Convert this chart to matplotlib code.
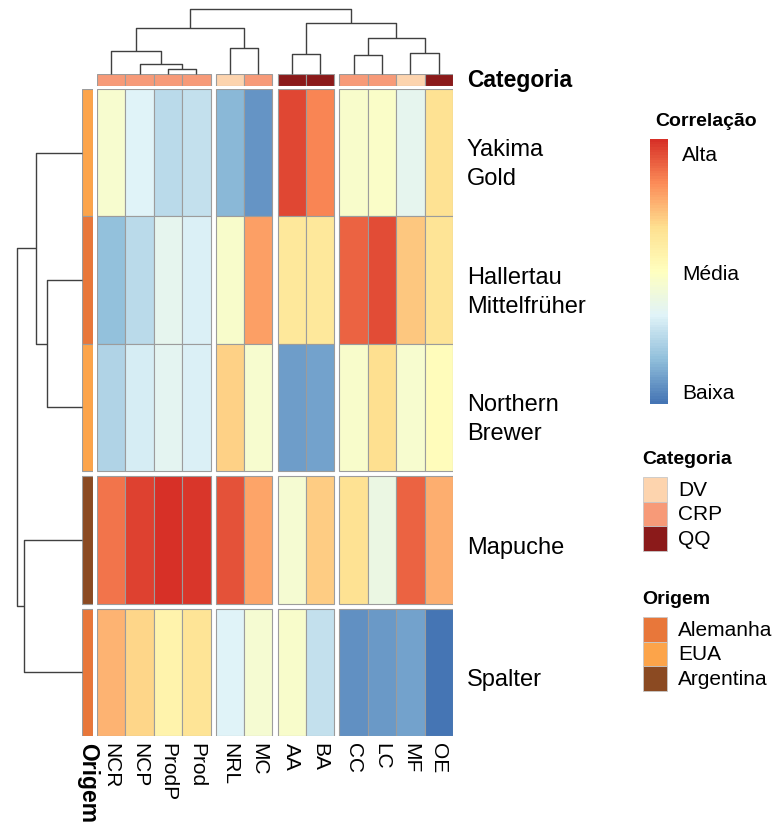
import numpy as np
import matplotlib
matplotlib.use("Agg")
import matplotlib.pyplot as plt
import matplotlib.colors as mcolors
from matplotlib.patches import Rectangle

plt.rcParams['font.family'] = ['Liberation Sans', 'DejaVu Sans']

# hop varieties (rows) and traits (columns), already in cluster order
rows = ["Yakima\nGold", "Hallertau\nMittelfrüher", "Northern\nBrewer", "Mapuche", "Spalter"]
cols = ["NCR", "NCP", "ProdP", "Prod", "NRL", "MC", "AA", "BA", "CC", "LC", "MF", "OE"]

corr = np.array([
    [-0.10, -0.33, -0.50, -0.45, -0.70, -0.85, 0.90, 0.68, -0.08, -0.06, -0.28, 0.30],
    [-0.66, -0.50, -0.28, -0.35, -0.07, 0.58, 0.25, 0.25, 0.82, 0.88, 0.42, 0.28],
    [-0.53, -0.37, -0.30, -0.35, 0.38, -0.10, -0.80, -0.78, -0.08, 0.33, -0.10, 0.02],
    [0.75, 0.92, 0.98, 0.96, 0.87, 0.56, -0.12, 0.40, 0.30, -0.22, 0.80, 0.52],
    [0.50, 0.36, 0.12, 0.28, -0.33, -0.12, -0.08, -0.45, -0.87, -0.83, -0.78, -1.00],
])

categoria = ["CRP", "CRP", "CRP", "CRP", "DV", "CRP", "QQ", "QQ", "CRP", "CRP", "DV", "QQ"]
origem = ["EUA", "Alemanha", "EUA", "Argentina", "Alemanha"]

cat_levels = ["DV", "CRP", "QQ"]
cat_colors = ["#FDD4AE", "#F79A78", "#8B1A1A"]
orig_levels = ["Alemanha", "EUA", "Argentina"]
orig_colors = ["#E8773A", "#FCA44A", "#8B4A22"]

# group sizes after cutting the trees
col_groups = [4, 2, 2, 4]
row_groups = [3, 1, 1]

# merge trees as (height, left, right), leaves are indices
col_tree = (6.5, (4.6, (2.3, 0, (1.0, 1, (0.5, 2, 3))), (2.6, 4, 5)),
            (5.1, (2.0, 6, 7), (3.6, (1.9, 8, 9), (2.1, 10, 11))))
row_tree = (6.5, (4.6, 0, (3.5, 1, 2)), (5.8, 3, 4))

palette = ["#4575B4", "#91BFDB", "#E0F3F8", "#FFFFBF", "#FEE090", "#FC8D59", "#D73027"]
cmap = mcolors.LinearSegmentedColormap.from_list("rdylbu", palette, N=100)
norm = mcolors.Normalize(-1, 1)
border = "#9c9c9c"
tree_color = "#404040"

W, H = 776, 828
fig = plt.figure(figsize=(W / 100, H / 100), dpi=100)


def px_axes(x0, y0, x1, y1):
    ax = fig.add_axes([x0 / W, 1 - y1 / H, (x1 - x0) / W, (y1 - y0) / H])
    ax.axis("off")
    return ax


def starts(groups, gap):
    out, pos = [], 0.0
    for g in groups:
        for _ in range(g):
            out.append(pos)
            pos += 1
        pos += gap
    return np.array(out), pos - gap


def draw_tree(ax, node, leaf_pos, side):
    if isinstance(node, int):
        return leaf_pos[node], 0.0
    h, left, right = node
    p1, h1 = draw_tree(ax, left, leaf_pos, side)
    p2, h2 = draw_tree(ax, right, leaf_pos, side)
    a, b = [p1, p1, p2, p2], [h1, h, h, h2]
    if side == "top":
        ax.plot(a, b, color=tree_color, lw=1.0, clip_on=False, solid_capstyle="butt")
    else:
        ax.plot(b, a, color=tree_color, lw=1.0, clip_on=False, solid_capstyle="butt")
    return (p1 + p2) / 2, h


x0s, xtot = starts(col_groups, 0.176)
y0s, ytot = starts(row_groups, 0.04)

# main heatmap
ax = px_axes(97, 90, 453, 737)
ax.set_xlim(0, xtot)
ax.set_ylim(ytot, 0)
for i in range(len(rows)):
    for j in range(len(cols)):
        ax.add_patch(Rectangle((x0s[j], y0s[i]), 1, 1, facecolor=cmap(norm(corr[i, j])),
                               edgecolor=border, lw=0.8))

for i, name in enumerate(rows):
    dy = -5 - 3 * name.count("\n")
    ax.annotate(name, xy=(1, y0s[i] + 0.5), xycoords=("axes fraction", "data"),
                xytext=(10, dy), textcoords="offset points", ha="left", va="center",
                fontsize=17, linespacing=1.42)
for j, name in enumerate(cols):
    ax.annotate(name, xy=(x0s[j] + 0.5, 0), xycoords=("data", "axes fraction"),
                xytext=(0, -4), textcoords="offset points", ha="center", va="top",
                rotation=270, fontsize=15)

# column annotation: Categoria
ax_ca = px_axes(97, 75, 453, 87)
ax_ca.set_xlim(0, xtot)
ax_ca.set_ylim(1, 0)
for j, c in enumerate(categoria):
    ax_ca.add_patch(Rectangle((x0s[j], 0), 1, 1, facecolor=cat_colors[cat_levels.index(c)],
                              edgecolor=border, lw=0.8))
ax_ca.annotate("Categoria", xy=(1, 0.5), xycoords="axes fraction", xytext=(10, 0),
               textcoords="offset points", ha="left", va="center",
               fontsize=16.5, fontweight="bold")

# row annotation: Origem
ax_ra = px_axes(82, 90, 93, 737)
ax_ra.set_xlim(0, 1)
ax_ra.set_ylim(ytot, 0)
for i, o in enumerate(origem):
    ax_ra.add_patch(Rectangle((0, y0s[i]), 1, 1, facecolor=orig_colors[orig_levels.index(o)],
                              edgecolor=border, lw=0.8))
ax_ra.annotate("Origem", xy=(0.5, 0), xycoords="axes fraction", xytext=(0, -4),
               textcoords="offset points", ha="center", va="top", rotation=270,
               fontsize=16.5, fontweight="bold")

# dendrograms
ax_ct = px_axes(97, 10, 453, 75)
ax_ct.set_xlim(0, xtot)
ax_ct.set_ylim(0, 6.5)
draw_tree(ax_ct, col_tree, x0s + 0.5, "top")

ax_rt = px_axes(17, 90, 82, 737)
ax_rt.set_xlim(6.5, 0)
ax_rt.set_ylim(ytot, 0)
draw_tree(ax_rt, row_tree, y0s + 0.5, "left")

# colour scale
cax = fig.add_axes([650 / W, 1 - 405 / H, 18 / W, 265 / H])
cb = fig.colorbar(plt.cm.ScalarMappable(norm=norm, cmap=cmap), cax=cax)
cb.outline.set_visible(False)
cb.set_ticks([0.9, 0.0, -0.9])
cb.set_ticklabels(["Alta", "Média", "Baixa"])
cax.tick_params(length=0, pad=10, labelsize=15)
fig.text(655 / W, 1 - 122 / H, "Correlação", ha="left", va="center",
         fontsize=14, fontweight="bold")

# annotation legends
lg = fig.add_axes([0, 0, 1, 1])
lg.set_xlim(0, W)
lg.set_ylim(H, 0)
lg.axis("off")


def box_legend(title, levels, colors, top):
    lg.text(642, top, title, ha="left", va="center", fontsize=14, fontweight="bold")
    for k, (lev, col) in enumerate(zip(levels, colors)):
        y = top + 18 + k * 24.7
        lg.add_patch(Rectangle((643, y), 24, 24.7, facecolor=col, edgecolor="#c8c8c8", lw=0.6))
        lg.text(678, y + 12.3, lev, ha="left", va="center", fontsize=15)


box_legend("Categoria", cat_levels, cat_colors, 460)
box_legend("Origem", orig_levels, orig_colors, 600)

fig.savefig("out.png", dpi=100, facecolor="white")
